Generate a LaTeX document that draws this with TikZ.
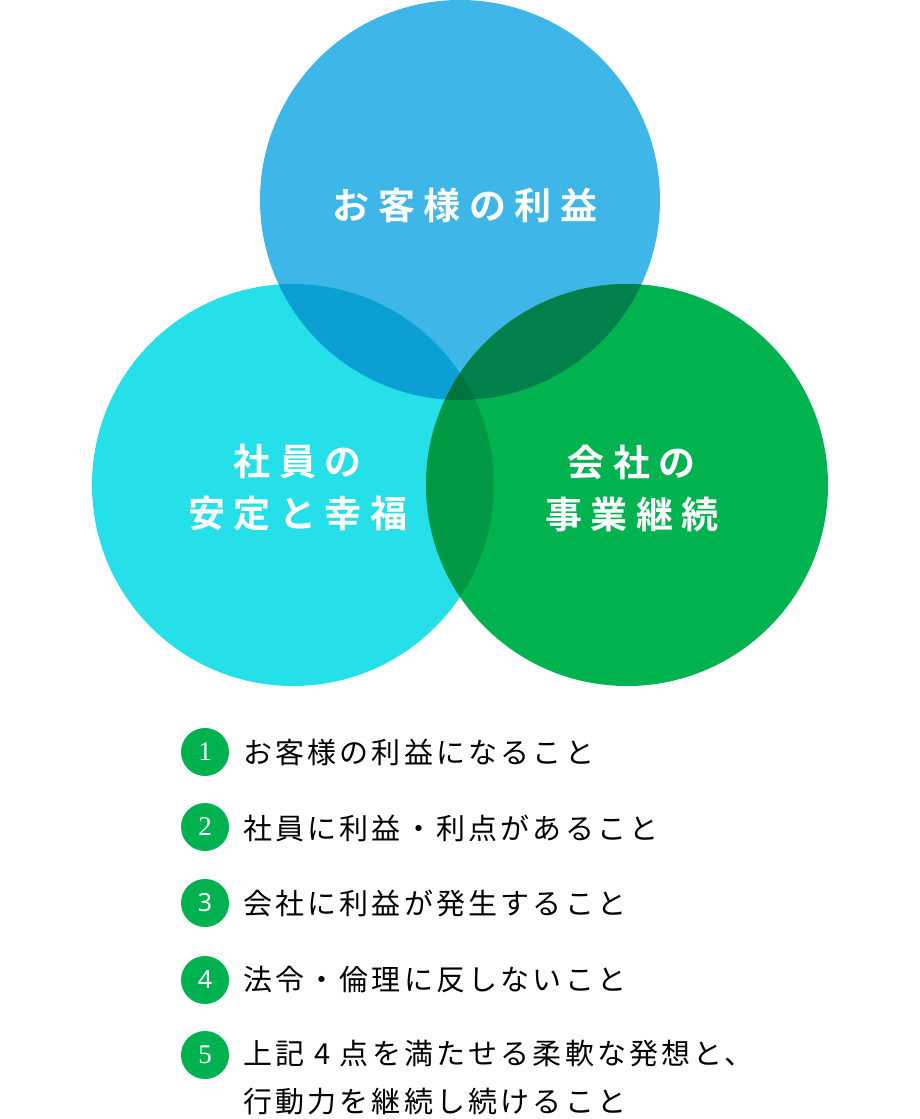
\documentclass[tikz,border=0pt]{standalone}
\usepackage{fontspec}
\usetikzlibrary{positioning}
\newfontfamily\jpfont[LetterSpace=11]{Noto Sans CJK JP}
\newfontfamily\jpboldfont[LetterSpace=23]{Noto Sans CJK JP Bold}
\newfontfamily\numserif{Liberation Serif}
\newfontfamily\numsans{Noto Sans}

\definecolor{custblue}{HTML}{3EB6E7}
\definecolor{staffcyan}{HTML}{25E0E8}
\definecolor{compgreen}{HTML}{00B34F}
\definecolor{bluecyan}{HTML}{0B9FD4}
\definecolor{bluegreen}{HTML}{00804A}
\definecolor{cyangreen}{HTML}{009A45}
\definecolor{allthree}{HTML}{00733F}
\definecolor{numgreen}{HTML}{00B24F}

\begin{document}
\begin{tikzpicture}[
    x=1pt, y=-1pt,
    circlelabel/.style={
        text=white,
        font=\jpboldfont\fontsize{37}{52}\selectfont,
        align=center
    },
    numdot/.style={
        circle,
        fill=numgreen,
        minimum size=48pt,
        inner sep=0pt,
        text=white,
        font=\numserif\fontsize{27}{27}\selectfont
    },
    itemtext/.style={
        anchor=west,
        inner sep=0pt,
        font=\jpfont\fontsize{29}{48}\selectfont,
        align=left
    }
]
    \useasboundingbox (0,0) rectangle (920,1119);

    % -------------------------------------------------------
    % Three circles
    % -------------------------------------------------------
    \fill[custblue]  (460,200) circle (200);
    \fill[staffcyan] (293,485) circle (201);
    \fill[compgreen] (627,485) circle (201);

    % pairwise overlaps
    \begin{scope}
        \clip (460,200) circle (200);
        \fill[bluecyan]  (293,485) circle (201);
        \fill[bluegreen] (627,485) circle (201);
    \end{scope}
    \begin{scope}
        \clip (293,485) circle (201);
        \fill[cyangreen] (627,485) circle (201);
        \clip (627,485) circle (201);
        \fill[allthree]  (460,200) circle (200);
    \end{scope}

    % -------------------------------------------------------
    % Circle labels
    % -------------------------------------------------------
    \node[circlelabel] (customer) at (465,205) {お客様の利益};
    \node[circlelabel] (staff) at (298,488) {社員の\\安定と幸福};
    \node[circlelabel] (company) at (632,488) {会社の\\事業継続};

    % -------------------------------------------------------
    % Numbered list
    % -------------------------------------------------------
    \node[numdot] (num1) at (205,752) {1};
    \node[numdot] (num2) at (205,827) {2};
    \node[numdot, font=\numsans\fontsize{25}{25}\selectfont] (num3) at (205,903) {3};
    \node[numdot, font=\numsans\fontsize{25}{25}\selectfont] (num4) at (205,980) {4};
    \node[numdot] (num5) at (205,1055) {5};

    \node[itemtext] (item1) at (243,752) {お客様の利益になること};
    \node[itemtext] (item2) at (243,828) {社員に利益・利点があること};
    \node[itemtext] (item3) at (243,903) {会社に利益が発生すること};
    \node[itemtext] (item4) at (243,979) {法令・倫理に反しないこと};
    \node[itemtext] (item5) at (243,1078)
        {上記 4 点を満たせる柔軟な発想と、\\行動力を継続し続けること};

\end{tikzpicture}
\end{document}
